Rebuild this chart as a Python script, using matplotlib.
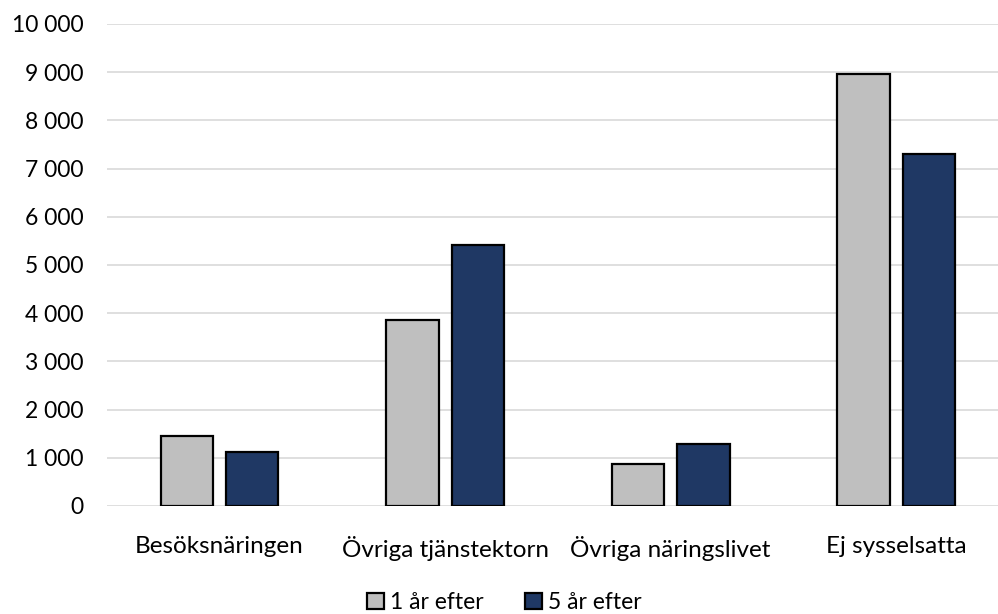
import matplotlib
matplotlib.use("Agg")
import matplotlib.pyplot as plt
import numpy as np
from matplotlib.ticker import FuncFormatter

plt.rcParams["font.family"] = ["Lato", "DejaVu Sans"]

categories = ["Besöksnäringen", "Övriga tjänstektorn", "Övriga näringslivet", "Ej sysselsatta"]
series_names = ["1 år efter", "5 år efter"]
one_year = [1460, 3855, 870, 8965]
five_year = [1115, 5415, 1280, 7300]
colors = ["#BFBFBF", "#1F3864"]

fig = plt.figure(figsize=(9.98, 6.14), dpi=100)
# plot area runs slightly past the right edge of the picture, as in the original
ax = fig.add_axes([0.107, 0.176, 0.904, 0.785])

x = np.arange(len(categories))
w = 0.232
gap = 0.058
ax.bar(x - (w + gap) / 2, one_year, width=w, color=colors[0], edgecolor="black",
       linewidth=1.6, label=series_names[0], zorder=3)
ax.bar(x + (w + gap) / 2, five_year, width=w, color=colors[1], edgecolor="black",
       linewidth=1.6, label=series_names[1], zorder=3)

ax.set_xlim(-0.5, len(categories) - 0.5)
ax.set_ylim(0, 10000)
ax.set_yticks(np.arange(0, 10001, 1000))
ax.yaxis.set_major_formatter(FuncFormatter(lambda v, p: f"{int(v):,}".replace(",", " ")))
ax.set_xticks(x)
ax.set_xticklabels(categories, fontsize=17.5)
ax.grid(axis="y", color="#D9D9D9", linewidth=1.2, zorder=0)
for s in ax.spines.values():
    s.set_visible(False)
ax.tick_params(axis="both", length=0, colors="black")
ax.tick_params(axis="y", labelsize=16.5, pad=17)
ax.tick_params(axis="x", pad=22)

fig.legend(loc="lower center", bbox_to_anchor=(0.505, -0.032), ncol=2, frameon=False,
           fontsize=16.5, handlelength=0.75, handleheight=0.75, handletextpad=0.25,
           columnspacing=1.8)

fig.savefig("out.png", dpi=100)
plt.close(fig)
